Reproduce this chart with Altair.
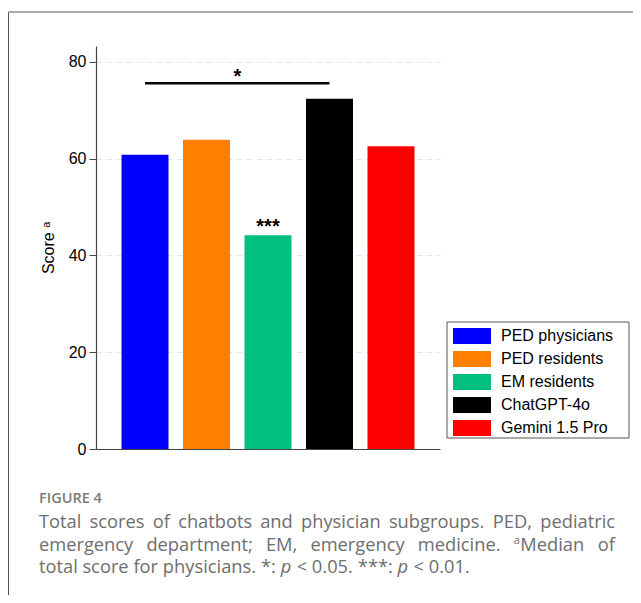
import altair as alt
import pandas as pd

# ---------------- data ----------------
groups = ["PED physicians", "PED residents", "EM residents", "ChatGPT-4o", "Gemini 1.5 Pro"]
scores = [60.8, 63.9, 44.2, 72.4, 62.6]
colors = ["#0000FF", "#FF7F00", "#00BF7F", "#000000", "#FF0000"]
y_ticks = [0, 20, 40, 60, 80]
y_max = 83.3

sig_pair = ["PED physicians", "ChatGPT-4o"]
sig_value = 75.6
sig_star = "*"
sig_star_value = 77.7
em_group = "EM residents"
em_star = "***"
em_star_value = 46.8

caption_head = "FIGURE 4"
caption_l1 = ["Total", "scores", "of", "chatbots", "and", "physician", "subgroups.", "PED,", "pediatric"]
caption_l2 = ["emergency", "department;", "EM,", "emergency", "medicine.", "^aMedian", "of"]
caption_l3 = ["total", "score", "for", "physicians.", "*:", "_p", "<", "0.05.", "***:", "_p", "<", "0.01."]

# ---------------- layout ----------------
W, H = 344, 403
PAD = {"left": 88, "top": 38, "right": 193, "bottom": 146}
OX, OY = 8 + PAD["left"], 8 + PAD["top"]   # page position of the plot origin

# approximate Open Sans advance widths (units / 2048)
OS = {" ": 532, ",": 502, ".": 549, ":": 549, ";": 549, "*": 1120, "<": 1171, "0": 1171, "1": 1171,
      "5": 1171, "A": 1339, "D": 1518, "E": 1124, "M": 1897, "P": 1247, "T": 1141,
      "a": 1141, "b": 1257, "c": 975, "d": 1257, "e": 1149, "f": 694, "g": 1122, "h": 1255,
      "i": 518, "l": 518, "m": 1905, "n": 1255, "o": 1237, "p": 1257, "r": 836, "s": 977,
      "t": 715, "u": 1255, "y": 1028}
CAP = 18.3
SUP = 11
SPACE3 = OS[" "] / 2048 * CAP


def tw(s, size):
    return sum(OS.get(c, 1150) for c in s) / 2048 * size


def wwidth(w):
    if w.startswith("^"):
        return tw(w[1], SUP) + 0.5 + tw(w[2:], CAP)
    if w.startswith("_"):
        return tw(w[1:], CAP)
    return tw(w, CAP)


X0, X1 = 39 - OX, 615 - OX
rows = []


def emit(word, x, y):
    if word.startswith("^"):
        rows.append({"t": word[1], "px": x, "py": y - 7, "k": "sup"})
        rows.append({"t": word[2:], "px": x + tw(word[1], SUP) + 0.5, "py": y, "k": "n"})
    elif word.startswith("_"):
        rows.append({"t": word[1:], "px": x, "py": y, "k": "it"})
    else:
        rows.append({"t": word, "px": x, "py": y, "k": "n"})


def justified(words, y):
    ws = [wwidth(w) for w in words]
    gap = (X1 - X0 - sum(ws)) / (len(words) - 1)
    x = X0
    for w, wd in zip(words, ws):
        emit(w, x, y)
        x += wd + gap


def natural(words, y):
    x = X0
    for w in words:
        emit(w, x, y)
        x += wwidth(w) + SPACE3


justified(caption_l1, 528 - OY)
justified(caption_l2, 550.5 - OY)
natural(caption_l3, 573 - OY)
cap_df = pd.DataFrame(rows)

df = pd.DataFrame({"group": groups, "score": scores})
one = pd.DataFrame({"k": [0]})

xscale = alt.Scale(domain=groups, paddingInner=0.236, paddingOuter=0.415)
yscale = alt.Scale(domain=[0, y_max], nice=False, zero=True)

bars = alt.Chart(df).mark_bar(strokeWidth=0).encode(
    x=alt.X("group:N", sort=groups, scale=xscale,
            axis=alt.Axis(labels=False, ticks=False, title=None, domainColor="#444",
                          domainWidth=1.2, grid=False)),
    y=alt.Y("score:Q", scale=yscale,
            axis=alt.Axis(values=y_ticks, title="Score \u1d43", titleFont="Liberation Sans",
                          titleFontSize=16, titleFontWeight="normal", titleColor="black",
                          titlePadding=12, labelFont="Liberation Sans", labelFontSize=16,
                          labelColor="black", labelPadding=3, tickSize=7, tickColor="#444",
                          domainColor="#444", domainWidth=1.2, grid=True, gridDash=[6, 4],
                          gridColor="#e6e6e6")),
    color=alt.Color("group:N", sort=groups, scale=alt.Scale(domain=groups, range=colors),
                    legend=alt.Legend(orient="none", legendX=357, legendY=282, title=None,
                                      symbolType="M-1,-0.42H1V0.42H-1Z", symbolSize=1444,
                                      symbolStrokeWidth=0, symbolOpacity=1, symbolOffset=0,
                                      labelFont="Liberation Sans", labelFontSize=16,
                                      labelColor="black", labelOffset=10, clipHeight=16,
                                      rowPadding=7, padding=0)),
)

sig_df = pd.DataFrame({"a": [sig_pair[0]], "b": [sig_pair[1]], "v": [sig_value]})
sig_rule = alt.Chart(sig_df).mark_rule(color="black", strokeWidth=2.7).encode(
    x=alt.X("a:N", scale=xscale, sort=groups), x2="b:N", y=alt.Y("v:Q", scale=yscale))

star_df = pd.DataFrame({"g": [em_group], "v": [sig_star_value], "t": [sig_star]})
star = alt.Chart(star_df).mark_text(font="Liberation Sans", fontSize=20, fontWeight="bold",
                                    baseline="middle", dx=-7, dy=4, color="black").encode(
    x=alt.X("g:N", scale=xscale, sort=groups, bandPosition=0), y=alt.Y("v:Q", scale=yscale), text="t:N")

em_df = pd.DataFrame({"g": [em_group], "v": [em_star_value], "t": [em_star]})
emstar = alt.Chart(em_df).mark_text(font="Liberation Sans", fontSize=20, fontWeight="bold",
                                    baseline="middle", dy=4, color="black").encode(
    x=alt.X("g:N", scale=xscale, sort=groups), y=alt.Y("v:Q", scale=yscale), text="t:N")

legend_box = alt.Chart(one).mark_rect(fill="white", stroke="#555", strokeWidth=1).encode(
    x=alt.value(351), x2=alt.value(533), y=alt.value(276), y2=alt.value(392))

frame_top = alt.Chart(one).mark_rule(color="#555", strokeWidth=1).encode(
    x=alt.value(-87.5), x2=alt.value(537), y=alt.value(12 - OY))
frame_left = alt.Chart(one).mark_rule(color="#555", strokeWidth=1).encode(
    x=alt.value(-87.5), y=alt.value(12 - OY), y2=alt.value(549))

head = alt.Chart(pd.DataFrame({"t": [caption_head]})).mark_text(
    font="Open Sans", fontSize=14.5, fontWeight=600, color="#7a7a7a", align="left",
    baseline="alphabetic").encode(x=alt.value(X0), y=alt.value(503 - OY), text="t:N")


def cap_layer(kind, **kw):
    base = dict(font="Open Sans", fontSize=CAP, color="#6e6e6e", align="left", baseline="alphabetic")
    base.update(kw)
    return alt.Chart(cap_df[cap_df.k == kind]).mark_text(**base).encode(
        x=alt.X("px:Q", scale=None, axis=None), y=alt.Y("py:Q", scale=None, axis=None), text="t:N")


cap_n = cap_layer("n")
cap_it = cap_layer("it", fontStyle="italic")
cap_sup = cap_layer("sup", fontSize=SUP)

chart = alt.layer(
    frame_top, frame_left, bars, sig_rule, star, emstar, legend_box, head, cap_n, cap_it, cap_sup
).properties(
    width=W, height=H, autosize=alt.AutoSizeParams(type="none"), padding=PAD
).configure_view(stroke=None)

chart.save("out.html", embed_options={"renderer": "svg", "actions": False})
